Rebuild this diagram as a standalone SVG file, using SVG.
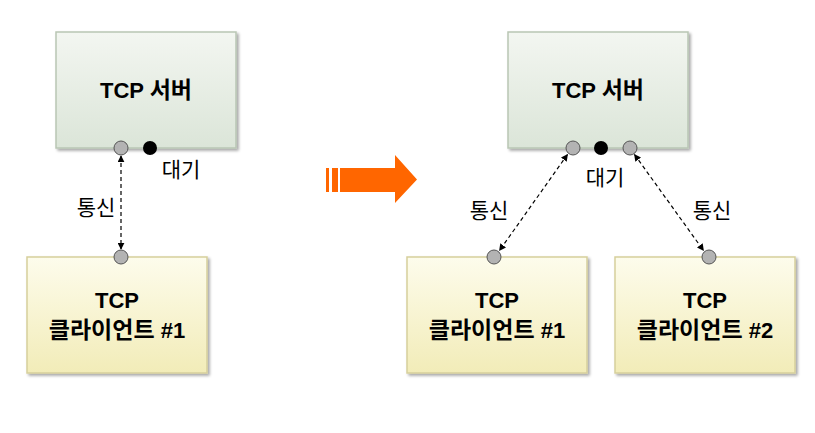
<svg xmlns="http://www.w3.org/2000/svg" width="815" height="433" viewBox="0 0 815 433">
<defs>
<linearGradient id="gs" x1="0" y1="0" x2="0" y2="1"><stop offset="0" stop-color="#f3f6f1"/><stop offset="1" stop-color="#dbe5d8"/></linearGradient>
<linearGradient id="gc" x1="0" y1="0" x2="0" y2="1"><stop offset="0" stop-color="#fdfcec"/><stop offset="1" stop-color="#f2ecb8"/></linearGradient>
<filter id="sh" x="-10%" y="-10%" width="125%" height="125%"><feGaussianBlur in="SourceAlpha" stdDeviation="1.5"/><feOffset dx="2" dy="2"/><feComponentTransfer><feFuncA type="linear" slope="0.35"/></feComponentTransfer><feMerge><feMergeNode/><feMergeNode in="SourceGraphic"/></feMerge></filter>
<marker id="ah" viewBox="0 0 10 10" refX="9" refY="5" markerWidth="7" markerHeight="7" orient="auto-start-reverse" markerUnits="userSpaceOnUse"><path d="M0,0 L10,5 L0,10 z" fill="#000"/></marker>
</defs>
<style>
.srv{fill:url(#gs);stroke:#b9c6b4;stroke-width:1.5;filter:url(#sh)}
.cli{fill:url(#gc);stroke:#d6cf9c;stroke-width:1.5;filter:url(#sh)}
.t{font-family:"Liberation Sans","Noto Sans CJK KR",sans-serif;font-weight:bold;font-size:22px;fill:#000;text-anchor:middle}
.k{font-family:"Noto Sans CJK KR",sans-serif;font-size:23px}
.l{font-family:"Noto Sans CJK KR","Liberation Sans",sans-serif;font-size:21px;fill:#000;text-anchor:middle}
.g{fill:#b3b3b3;stroke:#555;stroke-width:1}
.b{fill:#000}
.c{stroke:#000;stroke-width:1.2;stroke-dasharray:4,3;fill:none;marker-start:url(#ah);marker-end:url(#ah)}
</style>
<g id="connectors">
<line class="c" x1="121" y1="156" x2="121" y2="249"/>
<line class="c" x1="567.5" y1="154.5" x2="499.5" y2="250.5"/>
<line class="c" x1="634.5" y1="154.5" x2="703.5" y2="250.5"/>
</g>
<g id="server1">
<rect class="srv" x="56" y="32" width="180" height="116"/>
<text class="t" x="146" y="98">TCP <tspan class="k">서버</tspan></text>
<circle class="g" cx="121" cy="148" r="7"/>
<circle class="b" cx="150" cy="148" r="7"/>
</g>
<text class="l" x="181" y="177">대기</text>
<text class="l" x="96" y="215">통신</text>
<g id="client1">
<rect class="cli" x="27" y="257" width="180" height="116"/>
<text class="t" x="117" y="308">TCP</text>
<text class="t" x="117" y="338"><tspan class="k">클라이언트</tspan> #1</text>
<circle class="g" cx="121" cy="257" r="7"/>
</g>
<g id="arrow">
<rect x="326" y="168" width="3" height="24" fill="#ff6600"/>
<rect x="332" y="168" width="6" height="24" fill="#ff6600"/>
<path d="M340,168 H395 V155 L417,179.5 L395,203 V192 H340 z" fill="#ff6600"/>
</g>
<g id="server2">
<rect class="srv" x="508" y="32" width="180" height="116"/>
<text class="t" x="598" y="98">TCP <tspan class="k">서버</tspan></text>
<circle class="g" cx="573" cy="148" r="7"/>
<circle class="b" cx="601" cy="148" r="7"/>
<circle class="g" cx="630" cy="148" r="7"/>
</g>
<text class="l" x="605" y="185">대기</text>
<text class="l" x="489" y="218">통신</text>
<text class="l" x="712" y="218">통신</text>
<g id="client2">
<rect class="cli" x="407" y="257" width="180" height="116"/>
<text class="t" x="497" y="308">TCP</text>
<text class="t" x="497" y="338"><tspan class="k">클라이언트</tspan> #1</text>
<circle class="g" cx="494" cy="257" r="7"/>
</g>
<g id="client3">
<rect class="cli" x="615" y="257" width="180" height="116"/>
<text class="t" x="705" y="308">TCP</text>
<text class="t" x="705" y="338"><tspan class="k">클라이언트</tspan> #2</text>
<circle class="g" cx="709" cy="257" r="7"/>
</g>
</svg>
